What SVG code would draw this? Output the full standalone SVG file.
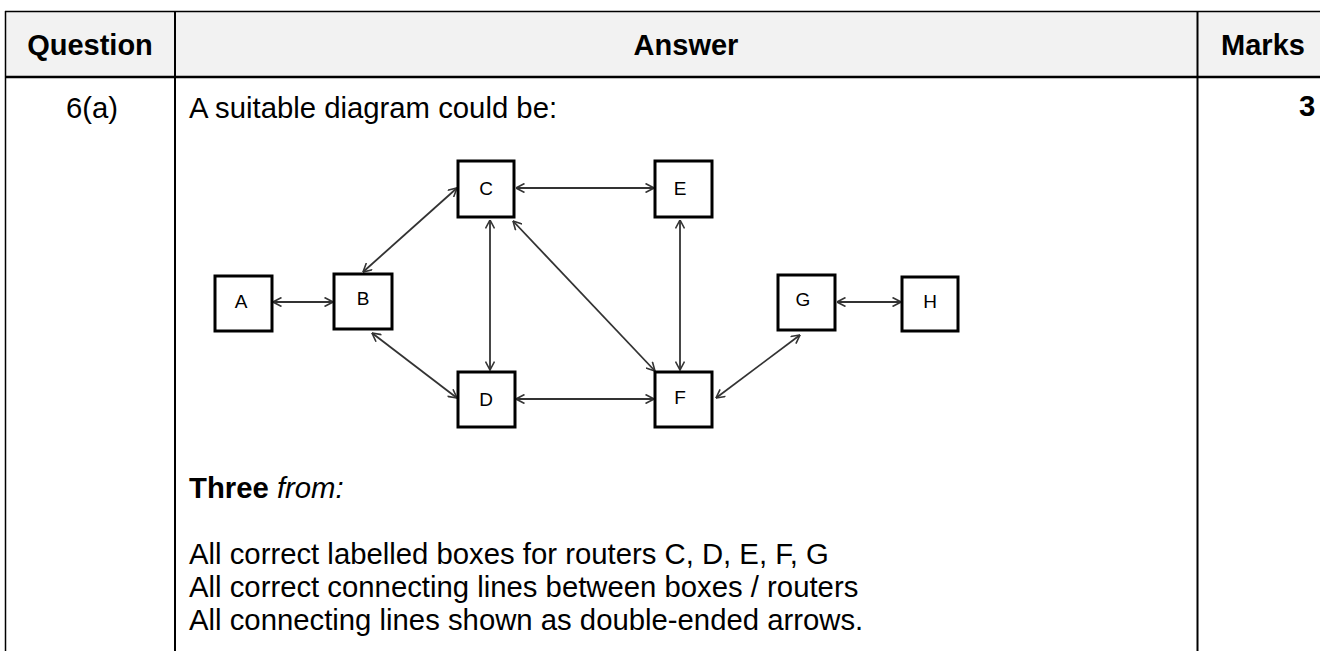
<svg xmlns="http://www.w3.org/2000/svg" width="1320" height="651" viewBox="0 0 1320 651">
<defs>
<style>
.t{font-family:"Liberation Sans",Arial,sans-serif;font-size:29.3px;fill:#000}
.h{font-family:"Liberation Sans",Arial,sans-serif;font-size:29px;font-weight:bold;fill:#000;text-anchor:middle}
.b{font-weight:bold}
.i{font-style:italic}
.box{fill:#fff;stroke:#000;stroke-width:3}
.lbl{font-family:"Liberation Sans",Arial,sans-serif;font-size:19px;fill:#000;text-anchor:middle}
.edge{stroke:#333;stroke-width:1.8;fill:none;marker-start:url(#arr);marker-end:url(#arr)}
.grid{stroke:#000;fill:none}
</style>
<marker id="arr" viewBox="0 0 10 10" refX="9.5" refY="5" markerWidth="10" markerHeight="10" markerUnits="userSpaceOnUse" orient="auto-start-reverse">
<path d="M1,0.5 L9.5,5 L1,9.5" fill="none" stroke="#333" stroke-width="1.6"/>
</marker>
</defs>
<rect x="0" y="0" width="1320" height="651" fill="#fff"/>
<g id="table">
<rect x="5" y="11" width="1320" height="66" fill="#f2f2f2"/>
<line class="grid" x1="5" y1="11.5" x2="1320" y2="11.5" stroke-width="1.5"/>
<line class="grid" x1="5" y1="77" x2="1320" y2="77" stroke-width="2.5"/>
<line class="grid" x1="5.5" y1="11" x2="5.5" y2="651" stroke-width="1.5"/>
<line class="grid" x1="175" y1="11" x2="175" y2="651" stroke-width="2"/>
<line class="grid" x1="1197.5" y1="11" x2="1197.5" y2="651" stroke-width="2"/>
<text class="h" x="90" y="55">Question</text>
<text class="h" x="686" y="55">Answer</text>
<text class="h" x="1263" y="55">Marks</text>
<text class="t" x="92" y="118" text-anchor="middle">6(a)</text>
<text class="t" x="189" y="118">A suitable diagram could be:</text>
<text class="t b" x="1299" y="116">3</text>
<text class="t" x="189" y="498"><tspan class="b">Three</tspan> <tspan class="i">from:</tspan></text>
<text class="t" x="189" y="564">All correct labelled boxes for routers C, D, E, F, G</text>
<text class="t" x="189" y="597">All correct connecting lines between boxes / routers</text>
<text class="t" x="189" y="630">All connecting lines shown as double-ended arrows.</text>
</g>
<g id="connectors">
<line class="edge" x1="273" y1="302" x2="333" y2="302"/>
<line class="edge" x1="363" y1="272" x2="457" y2="188"/>
<line class="edge" x1="372" y1="333" x2="457" y2="398"/>
<line class="edge" x1="516" y1="188" x2="654" y2="188"/>
<line class="edge" x1="490" y1="220" x2="490" y2="370"/>
<line class="edge" x1="513" y1="221" x2="655" y2="371"/>
<line class="edge" x1="680" y1="220" x2="680" y2="370"/>
<line class="edge" x1="516" y1="399" x2="654" y2="399"/>
<line class="edge" x1="716" y1="398" x2="800" y2="335"/>
<line class="edge" x1="837" y1="302" x2="901" y2="302"/>
</g>
<g id="node-A"><rect class="box" x="215" y="276" width="57" height="55"/><text class="lbl" x="241" y="308">A</text></g>
<g id="node-B"><rect class="box" x="334" y="274" width="58" height="55"/><text class="lbl" x="363" y="305">B</text></g>
<g id="node-C"><rect class="box" x="458" y="161" width="56" height="56"/><text class="lbl" x="486" y="195">C</text></g>
<g id="node-D"><rect class="box" x="458" y="372" width="57" height="55"/><text class="lbl" x="486" y="406">D</text></g>
<g id="node-E"><rect class="box" x="655" y="161" width="57" height="56"/><text class="lbl" x="680" y="195">E</text></g>
<g id="node-F"><rect class="box" x="655" y="372" width="57" height="55"/><text class="lbl" x="680" y="404">F</text></g>
<g id="node-G"><rect class="box" x="778" y="275" width="57" height="55"/><text class="lbl" x="803" y="306">G</text></g>
<g id="node-H"><rect class="box" x="902" y="277" width="56" height="54"/><text class="lbl" x="930" y="308">H</text></g>
</svg>
